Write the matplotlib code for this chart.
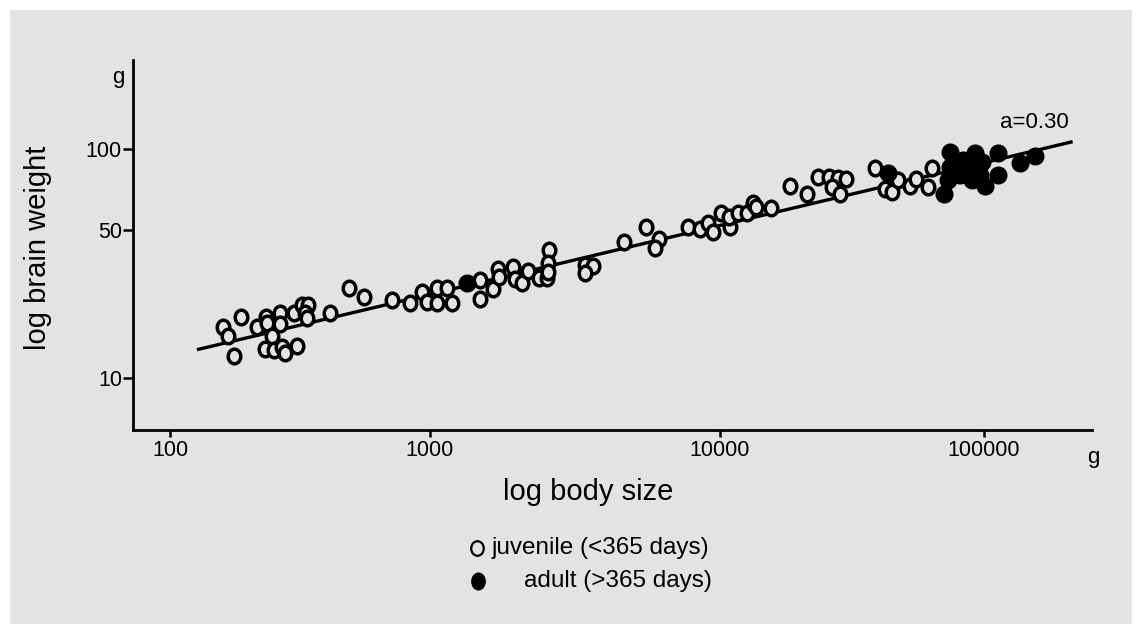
import numpy as np
import matplotlib
matplotlib.use("Agg")
import matplotlib.pyplot as plt
from matplotlib.patches import Rectangle
from matplotlib.lines import Line2D
from matplotlib.path import Path
from matplotlib.transforms import Affine2D

plt.rcParams['font.family'] = ['Liberation Sans', 'DejaVu Sans']

# Body size (g) and brain weight (g)
body_juvenile = [160, 167, 188, 177, 216, 234, 237, 246, 232, 251,
                 269, 277, 307, 265, 265, 301, 321, 340, 331, 336,
                 413, 489, 557, 712, 838, 929, 976, 1055, 1055, 1142,
                 1188, 1487, 1487, 1645, 1720, 1734, 1937, 1964, 2071, 2183,
                 2382, 2526, 2579, 2558, 2558, 3423, 3657, 3423, 4667, 5557,
                 6177, 5970, 7738, 8531, 9115, 9482, 10060, 10910, 10840, 11730,
                 12620, 13370, 13690, 15560, 18420, 21300, 23570, 25940, 28060, 30010,
                 26490, 28480, 38820, 42170, 44710, 47350, 52450, 55270, 61370, 63820]
brain_juvenile = [17.5, 15.7, 19.4, 12.7, 17.4, 19.5, 18.2, 15.7, 13.7, 13.6,
                  14.0, 13.1, 14.2, 20.2, 18.0, 20.3, 22.1, 22.1, 20.2, 19.1,
                  20.3, 26.6, 24.0, 23.4, 22.7, 25.6, 22.9, 26.5, 22.7, 26.5,
                  22.5, 29.0, 23.5, 26.2, 32.6, 29.9, 33.6, 29.3, 28.0, 32.1,
                  29.6, 29.6, 40.2, 34.8, 31.8, 34.2, 33.8, 31.2, 44.0, 51.2,
                  45.2, 41.0, 51.2, 50.3, 53.2, 49.1, 58.0, 51.4, 55.7, 58.0,
                  57.7, 63.2, 61.0, 60.2, 72.9, 68.1, 78.5, 78.5, 77.8, 77.2,
                  72.1, 68.1, 84.6, 70.8, 69.4, 76.7, 72.6, 77.0, 72.3, 84.8]

body_adult = [1338, 43290, 70580, 73280, 74330, 74330, 83540, 92450, 89830, 98010,
              89830, 100900, 113300, 113300, 136900, 156100, 81130, 96560, 84750]
brain_adult = [28.0, 81.2, 68.1, 76.7, 86.0, 97.4, 91.0, 96.2, 85.7, 89.5,
               76.7, 72.9, 96.9, 80.1, 88.5, 94.0, 80.1, 80.1, 85.0]

# Allometric fit line, slope a = 0.30
fit_body = [127, 216700]
fit_brain = [13.6, 106.4]
fit_label = "a=0.30"

x_ticks = [100, 1000, 10000, 100000]
x_tick_labels = ["100", "1000", "10000", "100000"]
y_ticks = [10, 50, 100]
y_tick_labels = ["10", "50", "100"]


def _extrap(v, xp, fp):
    v = np.asarray(v, dtype=float)
    out = np.interp(v, xp, fp)
    lo = (fp[1] - fp[0]) / (xp[1] - xp[0])
    hi = (fp[-1] - fp[-2]) / (xp[-1] - xp[-2])
    out = np.where(v < xp[0], fp[0] + (v - xp[0]) * lo, out)
    out = np.where(v > xp[-1], fp[-1] + (v - xp[-1]) * hi, out)
    return out


def _log(v):
    v = np.asarray(v, dtype=float)
    return np.log10(np.clip(v, 1e-12, None))


# hand-drawn logarithmic axes: decade lengths are not quite equal
X_DEC = [2.0, 3.0, 4.0, 5.0]
X_LEN = [0.0, 260.0, 550.0, 814.0]
Y_DEC = [1.0, np.log10(50), 2.0]
Y_LEN = [0.0, 148.0, 229.0]


def fwd_x(v):
    return _extrap(_log(v), X_DEC, X_LEN)


def inv_x(p):
    return 10 ** _extrap(p, X_LEN, X_DEC)


def fwd_y(v):
    return _extrap(_log(v), Y_DEC, Y_LEN)


def inv_y(p):
    return 10 ** _extrap(p, Y_LEN, Y_DEC)


# slightly upright oval ring used for the juvenile symbols
oval = Path.unit_circle().transformed(Affine2D().scale(0.86, 1.0))

W, H = 1142, 634
BG = "#e3e3e3"
fig = plt.figure(figsize=(W / 100, H / 100), dpi=100)
fig.patch.set_facecolor("white")
fig.add_artist(Rectangle((10 / W, 10 / H), 1 - 20 / W, 1 - 20 / H,
                         transform=fig.transFigure, facecolor=BG,
                         edgecolor="none", zorder=-10))


def fx(px):
    return px / W


def fy(py):
    return 1 - py / H


ax = fig.add_axes([fx(133), fy(430), fx(1092) - fx(133), fy(60) - fy(430)])
ax.set_facecolor("none")
ax.set_xscale("function", functions=(fwd_x, inv_x))
ax.set_yscale("function", functions=(fwd_y, inv_y))
ax.set_xlim(72.1, 256600)
ax.set_ylim(5.68, 214)

for s in ("top", "right"):
    ax.spines[s].set_visible(False)
for s in ("left", "bottom"):
    ax.spines[s].set_linewidth(2.0)
    ax.spines[s].set_color("black")

ax.set_xticks(x_ticks)
ax.set_xticklabels(x_tick_labels)
ax.set_yticks(y_ticks)
ax.set_yticklabels(y_tick_labels)
ax.minorticks_off()
ax.tick_params(axis="x", length=5, width=1.8, pad=2, labelsize=15.5)
ax.tick_params(axis="y", length=7, width=1.8, pad=1, labelsize=15.5)

ax.plot(fit_body, fit_brain, color="black", lw=2.4, solid_capstyle="butt", zorder=2)
ax.plot(body_juvenile, brain_juvenile, linestyle="none", marker=oval,
        markersize=10.5, markerfacecolor=BG, markeredgecolor="black",
        markeredgewidth=2.5, zorder=3)
ax.plot(body_adult, brain_adult, linestyle="none", marker="o",
        markersize=12, markerfacecolor="black", markeredgecolor="black",
        zorder=4)

fig.text(fx(1034), fy(122), fit_label, fontsize=16, ha="center", va="center")
fig.text(fx(118), fy(78), "g", fontsize=16, ha="center", va="center")
fig.text(fx(1093), fy(457), "g", fontsize=16, ha="center", va="center")
fig.text(fx(38), fy(248), "log brain weight", fontsize=21, rotation=90,
         ha="center", va="center")
fig.text(fx(588), fy(492), "log body size", fontsize=21, ha="center", va="center")

# key
fig.add_artist(Line2D([fx(477)], [fy(548)], transform=fig.transFigure,
                      marker=oval, markersize=10.5, markerfacecolor=BG,
                      markeredgecolor="black", markeredgewidth=1.6,
                      linestyle="none"))
fig.add_artist(Line2D([fx(478)], [fy(581)], transform=fig.transFigure,
                      marker=Path.unit_circle().transformed(Affine2D().scale(0.8, 1.0)),
                      markersize=12, markerfacecolor="black",
                      markeredgecolor="black", linestyle="none"))
fig.text(fx(492), fy(548), "juvenile (<365 days)", fontsize=17.5,
         ha="left", va="center")
fig.text(fx(524), fy(581), "adult (>365 days)", fontsize=17.5,
         ha="left", va="center")

fig.savefig("out.png", dpi=100, facecolor="white")
